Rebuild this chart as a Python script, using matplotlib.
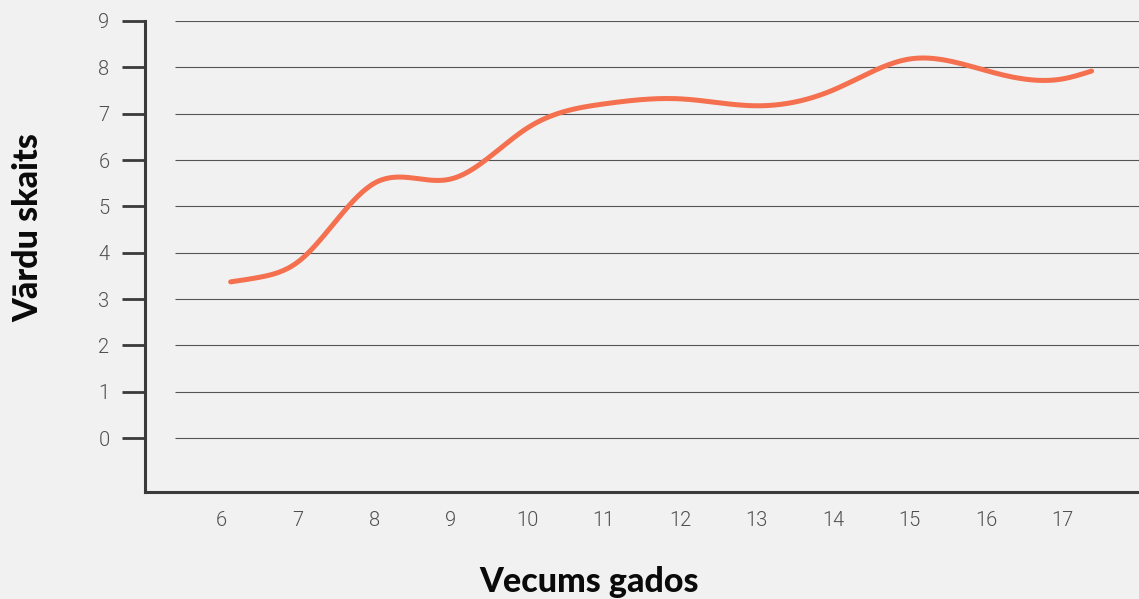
import numpy as np
import matplotlib
matplotlib.use("Agg")
import matplotlib.pyplot as plt

# data
ages = [6.12, 6.5, 7, 8, 9, 10, 11, 12, 13, 14, 15, 16, 17, 17.38]
words = [3.37, 3.47, 3.80, 5.50, 5.59, 6.69, 7.21, 7.32, 7.17, 7.51, 8.18, 7.93, 7.75, 7.92]
x_ticks = [6, 7, 8, 9, 10, 11, 12, 13, 14, 15, 16, 17]
y_ticks = [0, 1, 2, 3, 4, 5, 6, 7, 8, 9]


def natural_spline(x, y, n=400):
    """Smooth drawing path through the points (natural cubic spline)."""
    x = np.asarray(x, float)
    y = np.asarray(y, float)
    k = len(x)
    h = np.diff(x)
    a = np.zeros((k, k))
    b = np.zeros(k)
    a[0, 0] = 1
    a[-1, -1] = 1
    for i in range(1, k - 1):
        a[i, i - 1] = h[i - 1]
        a[i, i] = 2 * (h[i - 1] + h[i])
        a[i, i + 1] = h[i]
        b[i] = 3 * ((y[i + 1] - y[i]) / h[i] - (y[i] - y[i - 1]) / h[i - 1])
    c = np.linalg.solve(a, b)
    xs = np.linspace(x[0], x[-1], n)
    idx = np.clip(np.searchsorted(x, xs) - 1, 0, k - 2)
    dx = xs - x[idx]
    bb = (y[idx + 1] - y[idx]) / h[idx] - h[idx] * (2 * c[idx] + c[idx + 1]) / 3
    dd = (c[idx + 1] - c[idx]) / (3 * h[idx])
    ys = y[idx] + bb * dx + c[idx] * dx ** 2 + dd * dx ** 3
    return xs, ys


bg = "#f1f1f1"
plt.rcParams['font.family'] = ['Roboto', 'DejaVu Sans']

fig = plt.figure(figsize=(11.39, 5.99), dpi=100, facecolor=bg)
ax = fig.add_axes([145 / 1139, 1 - 492 / 599, 1 - 145 / 1139, (492 - 21) / 599])
ax.set_facecolor(bg)
ax.set_xlim(5, 18)
ax.set_ylim(-1.165, 9)

# gridlines start a bit right of the spine
ax.hlines(y_ticks, 5.39, 18, color="#555555", linewidth=0.8, zorder=1)

xs, ys = natural_spline(ages, words)
ax.plot(xs, ys, color="#f4704f", linewidth=3.6, solid_capstyle="round", zorder=3)

for side in ["top", "right"]:
    ax.spines[side].set_visible(False)
for side in ["left", "bottom"]:
    ax.spines[side].set_color("#3a3a3a")
    ax.spines[side].set_linewidth(2.2)

ax.set_yticks(y_ticks)
ax.set_xticks(x_ticks)
ax.tick_params(axis="y", length=16.5, width=2, color="#3a3a3a", pad=9,
               labelsize=14.5, labelcolor="#505050")
ax.tick_params(axis="x", length=0, pad=14, labelsize=14.5, labelcolor="#505050")
for lab in ax.get_xticklabels() + ax.get_yticklabels():
    lab.set_fontweight(300)

fig.text(589 / 1139, 1 - 582 / 599, "Vecums gados", ha="center", va="center",
         fontsize=24.5, fontweight="black", color="#0a0a0a", family=["Lato", "DejaVu Sans"])
fig.text(28 / 1139, 1 - 228 / 599, "Vārdu skaits", ha="center", va="center",
         rotation=90, fontsize=24.5, fontweight="black", color="#0a0a0a",
         family=["Lato", "DejaVu Sans"])

fig.savefig("out.png", dpi=100, facecolor=bg)
